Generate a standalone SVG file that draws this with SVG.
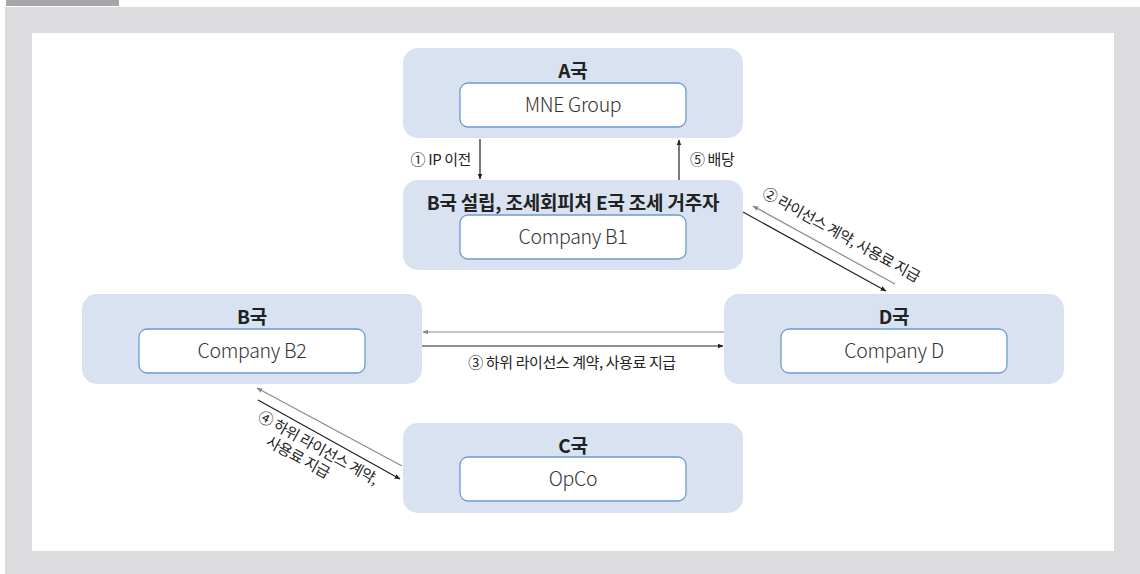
<svg xmlns="http://www.w3.org/2000/svg" width="1140" height="574" viewBox="0 0 1140 574">
<defs>
<style>
.outer{fill:#d9e2f1}
.inner{fill:#ffffff;stroke:#6e9bd0;stroke-width:1.3}
.title{font-family:"Noto Sans CJK KR","Noto Sans",sans-serif;font-weight:700;font-size:19px;fill:#222;text-anchor:middle;letter-spacing:-0.2px}
.name{font-family:"Noto Sans CJK KR","Noto Sans",sans-serif;font-weight:300;font-size:19.5px;fill:#333;text-anchor:middle;letter-spacing:-0.3px}
.lbl{font-family:"Noto Sans CJK KR","Noto Sans",sans-serif;font-weight:400;font-size:15px;fill:#222;letter-spacing:-0.4px}
.blk{stroke:#222;stroke-width:1.2;fill:none}
.gry{stroke:#8a8a8a;stroke-width:1.2;fill:none}
</style>
<marker id="ab" viewBox="0 0 10 10" refX="9" refY="5" markerWidth="6" markerHeight="6" orient="auto" markerUnits="userSpaceOnUse"><path d="M0,1 L10,5 L0,9 z" fill="#222"/></marker>
<marker id="ag" viewBox="0 0 10 10" refX="9" refY="5" markerWidth="6" markerHeight="6" orient="auto" markerUnits="userSpaceOnUse"><path d="M0,1 L10,5 L0,9 z" fill="#8a8a8a"/></marker>
</defs>
<rect x="0" y="0" width="1140" height="574" fill="#ffffff"/>
<rect x="5" y="7" width="1135" height="567" fill="#dcdcde"/>
<rect x="6" y="0" width="113" height="6" fill="#a7a7ab"/>
<rect x="32" y="33" width="1082" height="518" fill="#ffffff"/>

<g id="nodeA">
<rect class="outer" x="403" y="48" width="340" height="90" rx="15"/>
<text class="title" x="573" y="78">A국</text>
<rect class="inner" x="460" y="83" width="226" height="44" rx="8"/>
<text class="name" x="573" y="112">MNE Group</text>
</g>
<g id="nodeB1">
<rect class="outer" x="403" y="180" width="340" height="90" rx="15"/>
<text class="title" x="573" y="210">B국 설립, 조세회피처 E국 조세 거주자</text>
<rect class="inner" x="460" y="215" width="226" height="44" rx="8"/>
<text class="name" x="573" y="244">Company B1</text>
</g>
<g id="nodeB2">
<rect class="outer" x="82" y="294" width="340" height="90" rx="15"/>
<text class="title" x="252" y="324">B국</text>
<rect class="inner" x="139" y="329" width="226" height="44" rx="8"/>
<text class="name" x="252" y="358">Company B2</text>
</g>
<g id="nodeD">
<rect class="outer" x="724" y="294" width="340" height="90" rx="15"/>
<text class="title" x="894" y="324">D국</text>
<rect class="inner" x="781" y="329" width="226" height="44" rx="8"/>
<text class="name" x="894" y="358">Company D</text>
</g>
<g id="nodeC">
<rect class="outer" x="403" y="423" width="340" height="90" rx="15"/>
<text class="title" x="573" y="453">C국</text>
<rect class="inner" x="460" y="457" width="226" height="44" rx="8"/>
<text class="name" x="573" y="486">OpCo</text>
</g>

<g id="connectors">
<line class="blk" x1="480" y1="139" x2="480" y2="179" marker-end="url(#ab)"/>
<text class="lbl" x="471" y="165" text-anchor="end">① IP 이전</text>
<line class="blk" x1="679" y1="180" x2="679" y2="140" marker-end="url(#ab)"/>
<text class="lbl" x="690" y="165">⑤ 배당</text>

<line class="blk" x1="743" y1="212" x2="886" y2="291" marker-end="url(#ab)"/>
<line class="gry" x1="895" y1="284" x2="753" y2="206" marker-end="url(#ag)"/>
<text class="lbl" transform="translate(841,235) rotate(29)" x="0" y="5" text-anchor="middle">② 라이선스 계약, 사용료 지급</text>

<line class="gry" x1="724" y1="332" x2="423" y2="332" marker-end="url(#ag)"/>
<line class="blk" x1="422" y1="346" x2="723" y2="346" marker-end="url(#ab)"/>
<text class="lbl" x="572" y="368" text-anchor="middle">③ 하위 라이선스 계약, 사용료 지급</text>

<line class="gry" x1="402" y1="466" x2="257" y2="388" marker-end="url(#ag)"/>
<line class="blk" x1="258" y1="400" x2="400" y2="479" marker-end="url(#ab)"/>
<g transform="translate(318,448) rotate(29)">
<text class="lbl" x="0" y="5" text-anchor="middle">④ 하위 라이선스 계약,</text>
<text class="lbl" x="-13" y="23" text-anchor="middle">사용료 지급</text>
</g>
</g>
</svg>
